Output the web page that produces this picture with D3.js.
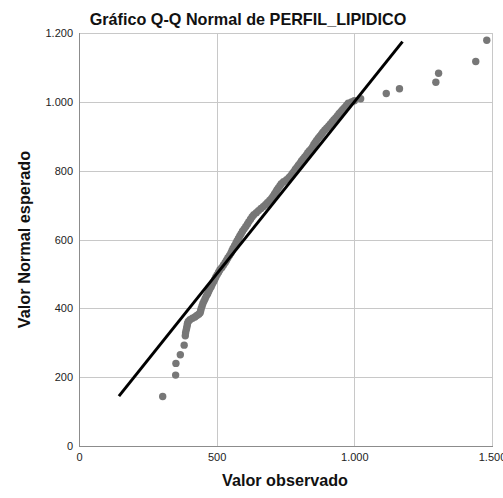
<!DOCTYPE html>
<html>
<head>
<meta charset="utf-8">
<script src="https://cdn.jsdelivr.net/npm/d3@7/dist/d3.min.js"></script>
<style>
  html, body { margin: 0; padding: 0; background: #fff; }
  svg { display: block; }
</style>
</head>
<body>
<svg id="chart" width="503" height="498"></svg>
<script>
// ---- Data ----
const chartTitle = "Gráfico Q-Q Normal de PERFIL_LIPIDICO";
const xTitle = "Valor observado";
const yTitle = "Valor Normal esperado";

const xTicks = [0, 500, 1000, 1500];
const yTicks = [0, 200, 400, 600, 800, 1000, 1200];

// observed values (x) and expected normal values (y)
const observed = [
  304, 351, 352, 368, 382,
  386, 387, 389, 391, 393, 394, 397, 403, 412, 421, 428, 435, 440, 442, 444,
  447, 450, 454, 458, 462, 467, 471, 475, 480, 484, 489, 493, 497, 502, 507,
  512, 519, 525, 531, 536, 541, 547, 552, 556, 560, 565, 570, 574, 579, 584,
  589, 594, 600, 606, 612, 617, 623, 629, 635, 644, 652, 661, 670, 678, 685,
  693, 700, 705, 710, 715, 719, 724, 730, 735, 743, 754, 763, 770, 775, 781,
  786, 792, 797, 803, 808, 814, 820, 826, 831, 837, 844, 849, 853, 858, 863,
  869, 875, 881, 886, 893, 900, 907, 913, 920, 926, 933, 939, 945, 952, 958,
  965, 972, 978, 990, 1000,
  1023, 1116, 1164, 1296, 1306, 1441, 1481
];
const expected = [
  144, 206, 240, 265, 293,
  320, 328, 336, 343, 350, 356, 362, 367, 371, 375, 379, 383, 387, 393, 400,
  407, 414, 421, 428, 435, 442, 449, 456, 463, 470, 477, 484, 491, 498, 505,
  512, 519, 526, 533, 540, 547, 554, 561, 568, 575, 582, 589, 596, 603, 610,
  617, 624, 631, 638, 645, 652, 659, 666, 672, 678, 684, 690, 696, 702, 708,
  714, 720, 726, 732, 738, 744, 750, 756, 762, 768, 774, 780, 786, 792, 798,
  804, 810, 816, 822, 828, 834, 840, 846, 852, 858, 864, 870, 876, 882, 888,
  894, 900, 906, 912, 918, 924, 930, 936, 942, 948, 954, 960, 966, 972, 978,
  984, 990, 996, 1000, 1003,
  1009, 1024, 1038, 1057, 1083, 1117, 1179
];

// reference line (y = x) endpoints
const refLine = [145, 1175];

// ---- Layout ----
const svg = d3.select("#chart");
const mLeft = 79, mRight = 492, mTop = 33, mBottom = 446;

const x = d3.scaleLinear().domain([0, 1500]).range([mLeft, mRight]);
const y = d3.scaleLinear().domain([0, 1200]).range([mBottom, mTop]);

const fmt = d => d3.format(",")(d).replace(/,/g, ".");
const FONT = "Liberation Sans, Arial, sans-serif";

// gridlines
svg.append("g")
  .selectAll("line")
  .data(xTicks.filter(d => d > 0))
  .join("line")
  .attr("x1", d => Math.round(x(d)) + 0.5).attr("x2", d => Math.round(x(d)) + 0.5)
  .attr("y1", mTop).attr("y2", mBottom)
  .attr("stroke", "#c8c8c8").attr("stroke-width", 1);

svg.append("g")
  .selectAll("line")
  .data(yTicks.filter(d => d > 0))
  .join("line")
  .attr("x1", mLeft).attr("x2", mRight)
  .attr("y1", d => Math.round(y(d)) + 0.5).attr("y2", d => Math.round(y(d)) + 0.5)
  .attr("stroke", "#c8c8c8").attr("stroke-width", 1);

// axes lines
svg.append("line")
  .attr("x1", mLeft + 0.5).attr("x2", mLeft + 0.5)
  .attr("y1", mTop).attr("y2", mBottom + 1)
  .attr("stroke", "#8c8c8c").attr("stroke-width", 1);
svg.append("line")
  .attr("x1", mLeft).attr("x2", mRight + 1)
  .attr("y1", mBottom + 0.5).attr("y2", mBottom + 0.5)
  .attr("stroke", "#8c8c8c").attr("stroke-width", 1);

// tick labels
const yAxis = d3.axisLeft(y).tickValues(yTicks).tickFormat(fmt).tickSize(0).tickPadding(5);
const gy = svg.append("g").attr("transform", `translate(${mLeft - 1},0)`).call(yAxis);
gy.select(".domain").remove();
gy.selectAll("text")
  .attr("font-family", FONT)
  .attr("font-size", 11).attr("fill", "#222");

const xAxis = d3.axisBottom(x).tickValues(xTicks).tickFormat(fmt).tickSize(0).tickPadding(6);
const gx = svg.append("g").attr("transform", `translate(0,${mBottom + 1})`).call(xAxis);
gx.select(".domain").remove();
gx.selectAll("text")
  .attr("font-family", FONT)
  .attr("font-size", 11).attr("fill", "#222");

// points
const pts = observed.map((o, i) => ({ o, e: expected[i] }));
svg.append("g")
  .selectAll("circle")
  .data(pts)
  .join("circle")
  .attr("cx", d => x(d.o))
  .attr("cy", d => y(d.e))
  .attr("r", 3.7)
  .attr("fill", "#777777");

// reference line
svg.append("line")
  .attr("x1", x(refLine[0])).attr("y1", y(refLine[0]))
  .attr("x2", x(refLine[1])).attr("y2", y(refLine[1]))
  .attr("stroke", "#000").attr("stroke-width", 3);

// titles
svg.append("text")
  .attr("x", 248).attr("y", 25)
  .attr("text-anchor", "middle")
  .attr("font-family", FONT)
  .attr("font-size", 16.2).attr("font-weight", "bold").attr("fill", "#111")
  .text(chartTitle);

svg.append("text")
  .attr("x", 285).attr("y", 486)
  .attr("text-anchor", "middle")
  .attr("font-family", FONT)
  .attr("font-size", 16.2).attr("font-weight", "bold").attr("fill", "#111")
  .text(xTitle);

svg.append("text")
  .attr("transform", `translate(29.5,239.5) rotate(-90)`)
  .attr("text-anchor", "middle")
  .attr("font-family", FONT)
  .attr("font-size", 16.3).attr("font-weight", "bold").attr("fill", "#111")
  .text(yTitle);
</script>
</body>
</html>
